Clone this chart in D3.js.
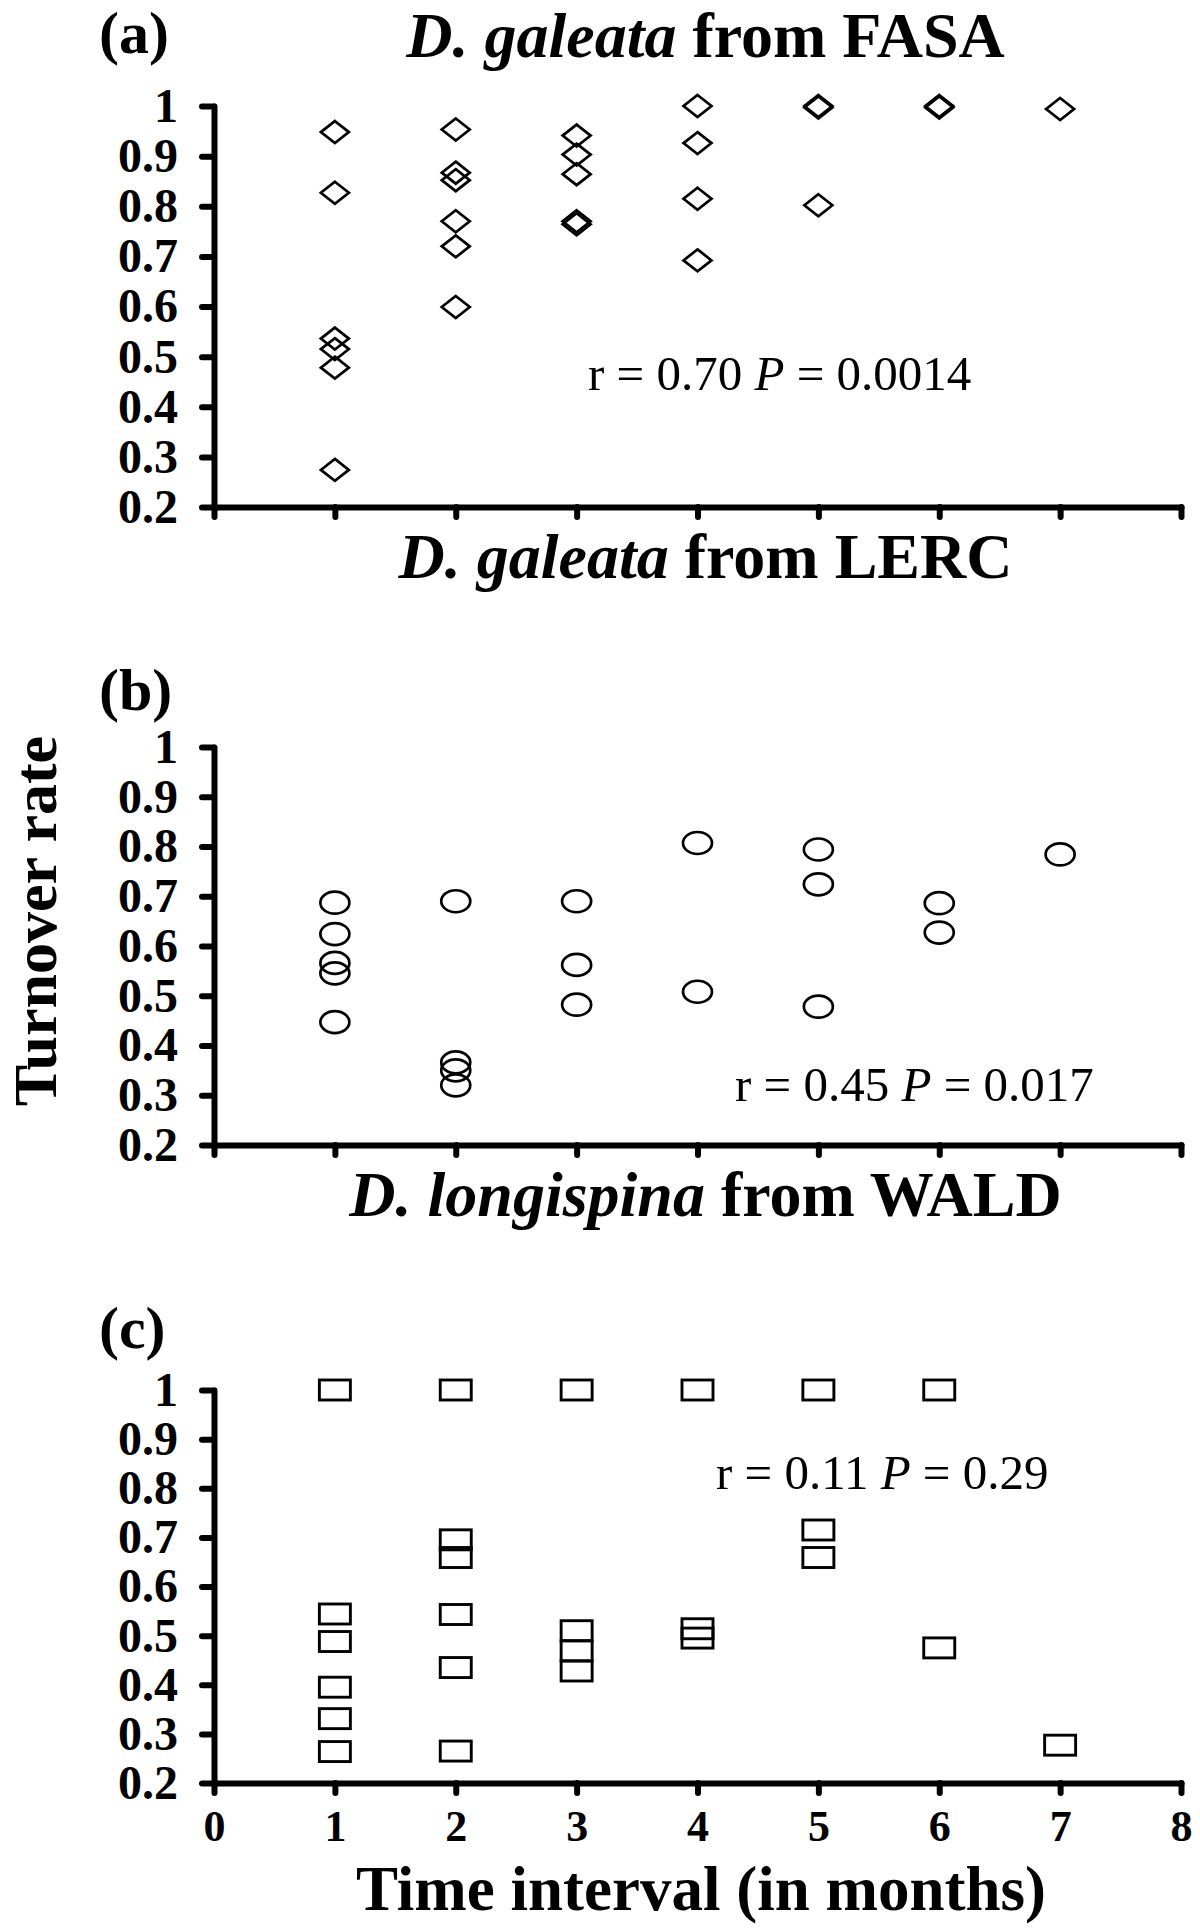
<!DOCTYPE html>
<html>
<head>
<meta charset="utf-8">
<script src="https://cdn.jsdelivr.net/npm/d3@7"></script>
<style>
  html, body { margin: 0; padding: 0; background: #fff; }
  svg { display: block; }
  text { font-family: "Liberation Serif", "Times New Roman", serif; fill: #000; }
</style>
</head>
<body>
<svg id="chart" width="1200" height="1928"></svg>
<script>
// ---------- data ----------
const xTickValues = [0, 1, 2, 3, 4, 5, 6, 7, 8];
const xTickLabels = ["0", "1", "2", "3", "4", "5", "6", "7", "8"];
const yTickValues = [0.2, 0.3, 0.4, 0.5, 0.6, 0.7, 0.8, 0.9, 1];
const yTickLabels = ["0.2", "0.3", "0.4", "0.5", "0.6", "0.7", "0.8", "0.9", "1"];

const panelLetters = ["(a)", "(b)", "(c)"];
const speciesNames = ["D. galeata", "D. galeata", "D. longispina"];
const siteNames = ["FASA", "LERC", "WALD"];
const rValues = ["0.70", "0.45", "0.11"];
const pValues = ["0.0014", "0.017", "0.29"];

// (a) D. galeata from FASA — diamonds
const fasaX = [1,1,1,1,1,1, 2,2,2,2,2,2, 3,3,3,3,3, 4,4,4,4, 5,5,5, 6,6, 7];
const fasaY = [0.948,0.827,0.536,0.515,0.478,0.274,
               0.953,0.867,0.852,0.770,0.720,0.599,
               0.941,0.903,0.864,0.770,0.764,
               1.000,0.926,0.815,0.692,
               1.000,0.997,0.802,
               1.000,0.997,
               0.994];

// (b) D. galeata from LERC — circles
const lercX = [1,1,1,1,1, 2,2,2,2, 3,3,3, 4,4, 5,5,5, 6,6, 7];
const lercY = [0.687,0.624,0.566,0.545,0.447,
               0.690,0.366,0.350,0.320,
               0.690,0.562,0.482,
               0.807,0.508,
               0.794,0.724,0.478,
               0.686,0.627,
               0.784];

// (c) D. longispina from WALD — squares
const waldX = [1,1,1,1,1,1, 2,2,2,2,2,2, 3,3,3,3, 4,4,4, 5,5,5, 6,6, 7];
const waldY = [1.000,0.544,0.488,0.395,0.331,0.264,
               1.000,0.695,0.659,0.543,0.435,0.265,
               1.000,0.510,0.469,0.428,
               1.000,0.514,0.495,
               1.000,0.715,0.659,
               1.000,0.475,
               0.277];

const seriesX = [fasaX, lercX, waldX];
const seriesY = [fasaY, lercY, waldY];
const markerShapes = ["diamond", "circle", "square"];

// ---------- layout ----------
const svg = d3.select("#chart");
const plotLeft = 214, plotRight = 1181;
const panelTop = [106, 747, 1390];
const panelBottom = [507, 1145, 1783];
const letterBaseline = [53, 710, 1348];
const titleBaseline = [57, 578, 1216];
const statBaseline = [390, 1101, 1489];
const statX = [588, 735, 716];

const x = d3.scaleLinear().domain([0, 8]).range([plotLeft, plotRight]);

function styleAxis(g) {
  g.select(".domain").attr("stroke", "#000").attr("stroke-width", 6)
    .attr("stroke-linecap", "round").attr("stroke-linejoin", "round");
  g.selectAll(".tick line").attr("stroke", "#000").attr("stroke-width", 6)
    .attr("stroke-linecap", "round");
}

for (let p = 0; p < 3; p++) {
  const y = d3.scaleLinear().domain([0.2, 1]).range([panelBottom[p], panelTop[p]]);
  const g = svg.append("g");

  // y axis
  const yAxis = d3.axisLeft(y)
    .tickValues(yTickValues)
    .tickFormat((d, i) => yTickLabels[i])
    .tickSize(12).tickSizeOuter(0).tickPadding(24);
  const gy = g.append("g").attr("transform", `translate(${plotLeft},0)`).call(yAxis);
  styleAxis(gy);
  gy.selectAll(".tick text")
    .style("font-family", "'Liberation Serif', serif")
    .style("font-weight", "bold").style("font-size", "48px").attr("fill", "#000");

  // x axis
  const xAxis = d3.axisBottom(x)
    .tickValues(xTickValues)
    .tickFormat((d, i) => p === 2 ? xTickLabels[i] : "")
    .tickSize(10).tickSizeOuter(0).tickPadding(17);
  const gx = g.append("g").attr("transform", `translate(0,${panelBottom[p]})`).call(xAxis);
  styleAxis(gx);
  gx.selectAll(".tick text")
    .style("font-family", "'Liberation Serif', serif")
    .style("font-weight", "bold").style("font-size", "44px").attr("fill", "#000");

  // markers
  const pts = seriesX[p].map((xv, i) => ({ x: xv, y: seriesY[p][i] }));
  const shape = markerShapes[p];
  const mg = g.append("g");
  if (shape === "diamond") {
    mg.selectAll("path").data(pts).enter().append("path")
      .attr("d", d => {
        const cx = x(d.x), cy = y(d.y), hw = 14, hh = 11;
        return `M${cx},${cy - hh}L${cx + hw},${cy}L${cx},${cy + hh}L${cx - hw},${cy}Z`;
      })
      .attr("fill", "none").attr("stroke", "#000").attr("stroke-width", 2.7)
      .attr("stroke-linejoin", "miter");
  } else if (shape === "circle") {
    mg.selectAll("ellipse").data(pts).enter().append("ellipse")
      .attr("cx", d => x(d.x)).attr("cy", d => y(d.y))
      .attr("rx", 14.5).attr("ry", 11)
      .attr("fill", "none").attr("stroke", "#000").attr("stroke-width", 2.7);
  } else {
    mg.selectAll("rect").data(pts).enter().append("rect")
      .attr("x", d => x(d.x) - 15.5).attr("y", d => y(d.y) - 10)
      .attr("width", 31).attr("height", 20)
      .attr("fill", "none").attr("stroke", "#000").attr("stroke-width", 2.9);
  }

  // panel letter
  svg.append("text").attr("x", 99).attr("y", letterBaseline[p])
    .style("font-weight", "bold").style("font-size", "60px").text(panelLetters[p]);

  // panel title
  const t = svg.append("text").attr("x", (plotLeft + plotRight) / 2 + 8).attr("y", titleBaseline[p])
    .attr("text-anchor", "middle").style("font-weight", "bold").style("font-size", "64px");
  t.append("tspan").style("font-style", "italic").text(speciesNames[p]);
  t.append("tspan").text(" from " + siteNames[p]);

  // statistics annotation
  const s = svg.append("text").attr("x", statX[p]).attr("y", statBaseline[p])
    .style("font-size", "49px");
  s.append("tspan").text("r = " + rValues[p] + " ");
  s.append("tspan").style("font-style", "italic").text("P");
  s.append("tspan").text(" = " + pValues[p]);
}

// y axis title
svg.append("text")
  .attr("transform", "translate(56,921) rotate(-90)")
  .attr("text-anchor", "middle")
  .style("font-weight", "bold").style("font-size", "62px")
  .text("Turnover rate");

// x axis title
svg.append("text")
  .attr("x", 701).attr("y", 1910)
  .attr("text-anchor", "middle")
  .style("font-weight", "bold").style("font-size", "63px")
  .text("Time interval (in months)");
</script>
</body>
</html>
